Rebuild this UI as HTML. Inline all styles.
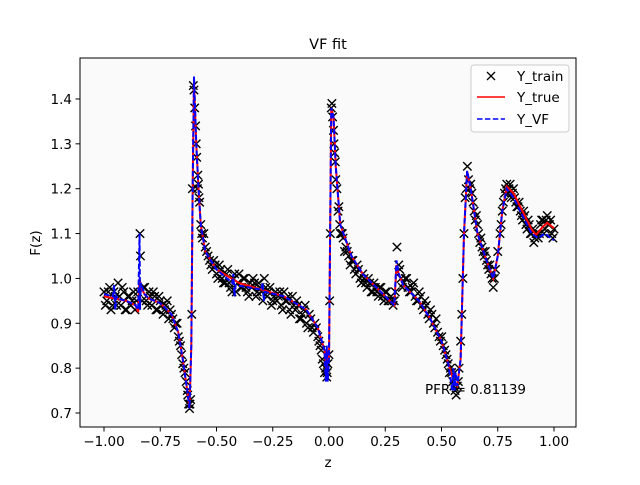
<!DOCTYPE html>
<html><head><meta charset="utf-8"><style>
body{margin:0;background:#fff;}
svg text{font-family:"DejaVu Sans","Liberation Sans",sans-serif;}
</style></head><body>
<svg id="chart" width="640" height="480" viewBox="0 0 640 480" xmlns="http://www.w3.org/2000/svg">
<rect x="0" y="0" width="640" height="480" fill="#fff"/>
<rect x="80" y="58" width="496" height="369" fill="#fafafa"/>
<g id="marks"></g>
<g id="axes"></g>
<rect x="80" y="58" width="496" height="369" fill="none" stroke="#000" stroke-width="1"/>
<text x="328" y="49" font-size="14.5" text-anchor="middle">VF fit</text>
<text x="328" y="467" font-size="13.5" text-anchor="middle">z</text>
<text x="40" y="243" font-size="13.5" text-anchor="middle" transform="rotate(-90 40 243)">F(z)</text>
<text x="425" y="394" font-size="13.5">PFR = 0.81139</text>
<g>
<rect x="471" y="65" width="98" height="67" rx="3" fill="#fff" fill-opacity="0.8" stroke="#ccc"/>
<path d="M487 72 l8 8 M495 72 l-8 8" stroke="#000" stroke-width="1.3"/>
<text x="517" y="81" font-size="13.5">Y_train</text>
<line x1="477" y1="97" x2="505" y2="97" stroke="red" stroke-width="1.5"/>
<text x="517" y="102" font-size="13.5">Y_true</text>
<line x1="477" y1="119" x2="505" y2="119" stroke="blue" stroke-width="1.5" stroke-dasharray="5.5,2.4"/>
<text x="517" y="124" font-size="13.5">Y_VF</text>
</g>
</svg>
<script>
const xTicks=[-1,-0.75,-0.5,-0.25,0,0.25,0.5,0.75,1];
const xTickLabels=["−1.00","−0.75","−0.50","−0.25","0.00","0.25","0.50","0.75","1.00"];
const yTicks=[0.7,0.8,0.9,1.0,1.1,1.2,1.3,1.4];
const yTickLabels=["0.7","0.8","0.9","1.0","1.1","1.2","1.3","1.4"];
const trainZ=[-1,-0.9875,-0.975,-0.9625,-0.95,-0.9375,-0.925,-0.9125,-0.9,-0.8875,-0.875,-0.8625,-0.85,-0.84,-0.838,-0.825,-0.8125,-0.8,-0.7875,-0.775,-0.7625,-0.75,-0.7375,-0.725,-0.7125,-0.7,-0.6875,-0.675,-0.665,-0.655,-0.645,-0.635,-0.628,-0.62,-0.615,-0.61,-0.607,-0.603,-0.6,-0.597,-0.593,-0.59,-0.585,-0.58,-0.575,-0.57,-0.5625,-0.55,-0.5375,-0.525,-0.5125,-0.5,-0.4875,-0.475,-0.4625,-0.45,-0.4375,-0.425,-0.4125,-0.4,-0.3875,-0.375,-0.3625,-0.35,-0.3375,-0.325,-0.3125,-0.3,-0.2875,-0.275,-0.2625,-0.25,-0.2375,-0.225,-0.2125,-0.2,-0.1875,-0.175,-0.1625,-0.15,-0.1375,-0.125,-0.1125,-0.1,-0.0875,-0.075,-0.0625,-0.05,-0.04,-0.03,-0.02,-0.01,-0.005,0,0.003,0.006,0.01,0.013,0.016,0.02,0.025,0.03,0.035,0.04,0.0475,0.055,0.0625,0.075,0.0875,0.1,0.1125,0.125,0.1375,0.15,0.1625,0.175,0.1875,0.2,0.2125,0.225,0.2375,0.25,0.2625,0.275,0.285,0.295,0.302,0.31,0.32,0.3325,0.345,0.3575,0.37,0.3825,0.395,0.4075,0.42,0.4325,0.445,0.4575,0.47,0.4825,0.495,0.5075,0.52,0.53,0.54,0.55,0.56,0.565,0.57,0.578,0.585,0.59,0.595,0.6,0.605,0.61,0.615,0.62,0.63,0.64,0.65,0.66,0.67,0.68,0.69,0.7,0.71,0.72,0.73,0.74,0.75,0.76,0.77,0.78,0.79,0.8,0.81,0.82,0.83,0.84,0.85,0.86,0.87,0.88,0.89,0.9,0.91,0.92,0.93,0.94,0.95,0.96,0.97,0.98,0.99,1];
const trainF=[0.97,0.95,0.98,0.94,0.96,0.99,0.94,0.97,0.93,0.96,0.95,0.93,0.97,1.10,1.05,0.98,0.95,0.97,0.94,0.96,0.93,0.95,0.92,0.94,0.91,0.92,0.89,0.90,0.86,0.83,0.80,0.77,0.74,0.71,0.73,0.92,1.2,1.43,1.42,1.38,1.34,1.3,1.2,1.21,1.17,1.12,1.09,1.07,1.05,1.03,1.04,1.01,1.03,1.0,0.99,1.02,0.98,1.0,0.97,1.01,0.98,1.0,0.97,0.99,1.0,0.96,0.99,0.97,1.0,0.96,0.98,0.95,0.97,0.96,0.94,0.97,0.95,0.93,0.96,0.93,0.94,0.91,0.93,0.90,0.92,0.89,0.90,0.87,0.85,0.82,0.79,0.78,0.81,0.83,0.95,1.1,1.38,1.39,1.36,1.33,1.28,1.22,1.2,1.15,1.12,1.1,1.09,1.07,1.05,1.04,1.02,1.03,1.0,1.01,0.99,1.0,0.97,0.99,0.97,0.98,0.96,0.97,0.95,0.96,0.94,0.97,1.07,1.03,1.0,0.99,1.0,0.97,0.98,0.96,0.95,0.96,0.93,0.94,0.91,0.92,0.89,0.88,0.86,0.85,0.83,0.81,0.80,0.77,0.75,0.74,0.76,0.80,0.86,0.92,1.0,1.1,1.18,1.2,1.25,1.22,1.21,1.17,1.13,1.12,1.08,1.07,1.05,1.04,1.02,1.01,0.98,1.02,1.06,1.1,1.15,1.19,1.21,1.2,1.18,1.2,1.17,1.16,1.15,1.13,1.14,1.11,1.12,1.1,1.08,1.1,1.09,1.12,1.13,1.11,1.14,1.12,1.1,1.11];
const trainZ2=[-0.994,-0.981,-0.969,-0.956,-0.944,-0.931,-0.919,-0.906,-0.894,-0.881,-0.869,-0.856,-0.831,-0.819,-0.806,-0.794,-0.781,-0.769,-0.756,-0.744,-0.731,-0.719,-0.706,-0.694,-0.681,-0.67,-0.66,-0.65,-0.64,-0.63,-0.624,-0.618,-0.588,-0.583,-0.578,-0.566,-0.556,-0.544,-0.531,-0.519,-0.506,-0.494,-0.481,-0.469,-0.456,-0.444,-0.431,-0.419,-0.406,-0.394,-0.381,-0.369,-0.356,-0.344,-0.331,-0.319,-0.306,-0.294,-0.281,-0.269,-0.256,-0.244,-0.231,-0.219,-0.206,-0.194,-0.181,-0.169,-0.156,-0.144,-0.131,-0.119,-0.106,-0.094,-0.081,-0.069,-0.056,-0.045,-0.035,-0.025,-0.015,-0.008,0.022,0.028,0.044,0.051,0.059,0.069,0.081,0.094,0.106,0.119,0.131,0.144,0.156,0.169,0.181,0.194,0.206,0.219,0.231,0.244,0.256,0.269,0.28,0.29,0.315,0.326,0.339,0.351,0.364,0.376,0.389,0.401,0.414,0.426,0.439,0.451,0.464,0.476,0.489,0.501,0.514,0.525,0.535,0.545,0.555,0.575,0.625,0.635,0.645,0.655,0.665,0.675,0.685,0.695,0.705,0.715,0.725,0.735,0.765,0.775,0.785,0.795,0.805,0.815,0.825,0.835,0.845,0.855,0.865,0.875,0.885,0.895,0.905,0.915,0.925,0.935,0.945,0.955,0.965,0.975,0.985,0.995];
const trainF2=[0.94,0.97,0.93,0.97,0.94,0.96,0.98,0.93,0.96,0.94,0.97,0.95,0.95,0.98,0.94,0.96,0.97,0.93,0.96,0.94,0.93,0.95,0.93,0.91,0.90,0.87,0.85,0.81,0.79,0.75,0.72,0.72,1.27,1.23,1.18,1.1,1.1,1.06,1.04,1.02,1.03,1.0,1.02,0.99,1.01,0.99,0.97,1.01,0.99,0.98,1.0,0.98,0.96,0.98,0.99,0.97,0.98,0.95,0.98,0.97,0.94,0.96,0.95,0.97,0.93,0.95,0.96,0.92,0.94,0.95,0.91,0.92,0.94,0.89,0.91,0.88,0.89,0.86,0.84,0.81,0.8,0.79,1.3,1.26,1.16,1.1,1.1,1.06,1.06,1.03,1.04,1.01,1.02,0.99,1.0,0.98,0.99,0.97,0.98,0.96,0.98,0.95,0.97,0.95,0.95,0.95,1.02,0.98,1.0,0.98,0.97,0.99,0.95,0.97,0.94,0.95,0.92,0.93,0.9,0.91,0.87,0.87,0.84,0.82,0.79,0.79,0.76,0.77,1.2,1.19,1.15,1.14,1.1,1.09,1.06,1.06,1.03,1.03,1.0,1.0,1.12,1.17,1.2,1.19,1.21,1.19,1.18,1.16,1.17,1.14,1.15,1.12,1.13,1.1,1.11,1.09,1.1,1.1,1.13,1.1,1.13,1.12,1.13,1.09];
const trueZ=[-1,-0.95,-0.9,-0.86,-0.848,-0.842,-0.835,-0.82,-0.8,-0.75,-0.7,-0.67,-0.65,-0.63,-0.62,-0.612,-0.606,-0.6,-0.59,-0.58,-0.57,-0.55,-0.5,-0.4,-0.3,-0.2,-0.1,-0.05,-0.02,-0.012,-0.005,0,0.005,0.01,0.02,0.03,0.05,0.1,0.15,0.2,0.25,0.28,0.29,0.3,0.31,0.33,0.4,0.45,0.5,0.53,0.555,0.57,0.585,0.6,0.614,0.63,0.66,0.7,0.73,0.75,0.77,0.79,0.82,0.86,0.9,0.92,0.95,0.97,1];
const trueF=[0.96,0.955,0.95,0.94,0.925,1.0,0.98,0.965,0.955,0.945,0.92,0.88,0.82,0.75,0.71,0.85,1.2,1.44,1.3,1.2,1.12,1.06,1.02,0.99,0.975,0.96,0.93,0.89,0.84,0.79,0.84,0.82,1.1,1.38,1.36,1.25,1.12,1.05,1.01,0.985,0.96,0.945,0.94,1.03,1.01,0.985,0.95,0.91,0.86,0.81,0.77,0.76,0.82,1.1,1.238,1.2,1.1,1.04,1.0,1.05,1.15,1.205,1.19,1.15,1.11,1.097,1.115,1.124,1.112];
const vfZ=[-1,-0.96,-0.955,-0.95,-0.945,-0.94,-0.9,-0.86,-0.848,-0.842,-0.84,-0.836,-0.82,-0.8,-0.75,-0.7,-0.67,-0.65,-0.63,-0.62,-0.612,-0.606,-0.6,-0.59,-0.58,-0.57,-0.55,-0.5,-0.43,-0.425,-0.42,-0.415,-0.3,-0.295,-0.29,-0.285,-0.2,-0.1,-0.05,-0.02,-0.014,-0.01,-0.006,0,0.005,0.01,0.02,0.03,0.05,0.1,0.15,0.2,0.25,0.28,0.29,0.3,0.31,0.33,0.4,0.45,0.5,0.53,0.548,0.553,0.558,0.563,0.57,0.585,0.6,0.614,0.63,0.66,0.7,0.73,0.75,0.77,0.79,0.82,0.86,0.9,0.93,0.96,1];
const vfF=[0.965,0.96,0.985,0.93,0.96,0.955,0.95,0.94,0.93,1.1,0.93,0.99,0.965,0.955,0.945,0.92,0.88,0.82,0.75,0.71,0.85,1.2,1.45,1.3,1.2,1.12,1.06,1.02,0.99,1.01,0.96,0.985,0.975,0.99,0.95,0.97,0.96,0.93,0.89,0.84,0.77,0.85,0.77,0.82,1.1,1.38,1.36,1.25,1.12,1.05,1.01,0.985,0.96,0.945,0.94,1.04,1.01,0.985,0.95,0.91,0.86,0.81,0.75,0.8,0.75,0.79,0.76,0.82,1.1,1.24,1.2,1.1,1.04,1.0,1.05,1.15,1.2,1.18,1.14,1.1,1.09,1.1,1.085];

const NS='http://www.w3.org/2000/svg';
function xs(z){return 329+225*z;}
function ys(f){return 413-(f-0.7)*448.6;}
const marks=document.getElementById('marks');
const axes=document.getElementById('axes');
function mk(tag,attrs,parent){const e=document.createElementNS(NS,tag);for(const k in attrs)e.setAttribute(k,attrs[k]);parent.appendChild(e);return e;}

xTicks.forEach((t,i)=>{
  const l=mk('line',{x1:xs(t),x2:xs(t),y1:427,y2:431.5,stroke:'#000','stroke-width':1},axes);
  
  
  const tx=mk('text',{x:xs(t),y:446,'font-size':13.5,'text-anchor':'middle'},axes);
  tx.textContent=xTickLabels[i];
  
  
});
yTicks.forEach((t,i)=>{
  const l=mk('line',{x1:75.5,x2:80,y1:ys(t),y2:ys(t),stroke:'#000','stroke-width':1},axes);
  
  
  const tx=mk('text',{x:72,y:ys(t)+5,'font-size':13.5,'text-anchor':'end'},axes);
  tx.textContent=yTickLabels[i];
  
  
});

function crosses(zArr,fArr){let d='';zArr.forEach((z,i)=>{const x=xs(z),y=ys(fArr[i]);d+=`M${x-4.2} ${y-4.2}L${x+4.2} ${y+4.2}M${x+4.2} ${y-4.2}L${x-4.2} ${y+4.2}`;});return d;}
const tr=mk('path',{d:crosses(trainZ,trainF),stroke:'#000','stroke-width':1.4,fill:'none'},marks);


const tr2=mk('path',{d:crosses(trainZ2,trainF2),stroke:'#000','stroke-width':1.4,fill:'none'},marks);



const tp=mk('polyline',{points:trueZ.map((z,i)=>xs(z)+','+ys(trueF[i])).join(' '),stroke:'red','stroke-width':2,fill:'none'},marks);


const vp=mk('polyline',{points:vfZ.map((z,i)=>xs(z)+','+ys(vfF[i])).join(' '),stroke:'blue','stroke-width':2,fill:'none','stroke-dasharray':'5.5,2.4'},marks);


</script>
</body></html>
